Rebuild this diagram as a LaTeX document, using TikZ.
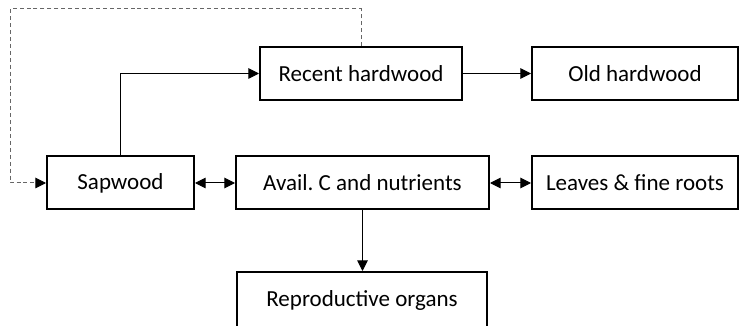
\documentclass[tikz,border=0pt]{standalone}
\usepackage{fontspec}
\setmainfont{Carlito}
\usetikzlibrary{arrows.meta}
\usetikzlibrary{positioning}
\begin{document}
\begin{tikzpicture}[line cap=butt,line join=miter,>={Triangle[length=8pt,width=8pt]},x=0.75pt,y=0.75pt,
  box/.style={draw,line width=1.5pt,minimum height=53*0.75pt,inner sep=0pt,font=\fontsize{17.25}{20}\selectfont},
  flow/.style={->,line width=0.75pt},
  both/.style={<->,line width=0.75pt},
  feedback/.style={-{Triangle[length=8pt,width=8pt,color=black]},line width=0.75pt,draw=gray!80!black,dash pattern=on 3pt off 2.2pt}]
\useasboundingbox (0,0) rectangle (739,325);
\node[box,minimum width=202*0.75pt] (recent) at (361,251.5) {Recent hardwood};
\node[box,minimum width=206*0.75pt] (old) at (635,251.5) {Old hardwood};
\node[box,minimum width=147*0.75pt] (sap) at (120.5,142) {Sapwood};
\node[box,minimum width=253*0.75pt] (avail) at (362.5,142) {Avail.\ C and nutrients};
\node[box,minimum width=206*0.75pt] (leaves) at (635,142) {Leaves \& fine roots};
\node[box,minimum width=250*0.75pt,minimum height=56*0.75pt] (repro) at (362,25) {Reproductive organs};
\coordinate (loop) at (10,316);
\draw[flow] (sap.north) |- (recent.west);
\draw[flow] (recent.east) -- (old.west);
\draw[both] (sap.east) -- (avail.west);
\draw[both] (avail.east) -- (leaves.west);
\draw[flow] (avail.south) -- (avail.south |- repro.north);
\draw[feedback] (recent.north) |- (loop) |- (sap.west);
\end{tikzpicture}
\end{document}
